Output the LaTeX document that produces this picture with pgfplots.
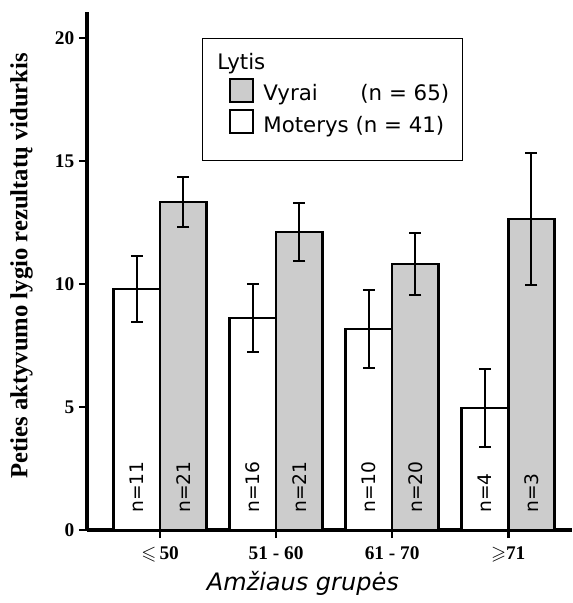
\documentclass[border=0pt]{standalone}
\usepackage{amssymb}
\usepackage{fontspec}
\setmainfont{Liberation Serif}
\newfontfamily\verd{DejaVu Sans}
\usepackage{pgfplots}
\pgfplotsset{compat=1.18}
\definecolor{barg}{RGB}{204,204,204}
\pgfplotsset{sqlegend/.style={legend image code/.code={\draw[##1] (13pt,-6pt) rectangle (30pt,11pt); \path (35pt,0pt);}}}
\begin{document}
\begin{tikzpicture}
\useasboundingbox (-65.25pt,-54.75pt) rectangle (363.75pt,397.5pt);
\begin{axis}[
  at={(0,0)}, anchor=south west,
  scale only axis, width=363.75pt, height=388.5pt,
  xmin=-0.63, xmax=3.55, ymin=0, ymax=21.05,
  axis lines*=left,
  axis line style={line width=3pt},
  ybar, bar width=0.4,
  xtick={0,1,2,3},
  xticklabels={{$\leqslant$\,50},{51 - 60},{61 - 70},{$\geqslant$71}},
  ytick={0,5,10,15,20},
  /pgf/number format/assume math mode=true,
  tick align=outside,
  major tick length=6pt,
  tick style={line width=2pt,black},
  ticklabel style={font=\bfseries\fontsize{14.5}{16}\selectfont},
  xticklabel style={yshift=-3pt},
  ylabel={Peties aktyvumo lygio rezultatų vidurkis},
  ylabel style={font=\bfseries\fontsize{18.5}{20}\selectfont, at={(axis description cs:-0.135,0.51)}, anchor=center},
  xlabel={Amžiaus grupės},
  xlabel style={font=\verd\itshape\fontsize{18}{20}\selectfont, at={(axis description cs:0.445,0)}, yshift=-40pt, anchor=center},
  legend style={at={(axis description cs:0.237,0.95)}, anchor=north west, draw=black, line width=0.6pt,
    font=\verd\fontsize{16}{18}\selectfont, inner xsep=8pt, inner ysep=9pt, row sep=3pt,
    cells={anchor=west}},
  clip=false,
]
\addlegendimage{empty legend}
\addlegendentry{\hspace{-34.5pt}Lytis}
\addlegendimage{draw=black, fill=barg, line width=1.5pt, sqlegend}
\addlegendentry{\makebox[4.55em][l]{Vyrai}(n = 65)}
\addlegendimage{draw=black, fill=white, line width=1.5pt, sqlegend}
\addlegendentry{Moterys (n = 41)}
\addlegendimage{empty legend}
\addlegendentry{\rule{0pt}{0pt}}

\addplot[forget plot, bar shift=-0.2, draw=black, fill=white, line width=2pt,
  error bars/.cd, y dir=both, y explicit, error mark=|,
  error bar style={line width=1.5pt, black},
  error mark options={line width=1.5pt, draw=black, mark size=4.5pt}]
  table[x=x, y=y, y error=e] {
x y e
0 9.80 1.34
1 8.62 1.38
2 8.17 1.60
3 4.96 1.59
};
\addplot[forget plot, bar shift=0.2, draw=black, fill=barg, line width=2pt,
  error bars/.cd, y dir=both, y explicit, error mark=|,
  error bar style={line width=1.5pt, black},
  error mark options={line width=1.5pt, draw=black, mark size=4.5pt}]
  table[x=x, y=y, y error=e] {
x y e
0 13.33 1.01
1 12.11 1.17
2 10.81 1.26
3 12.64 2.67
};
\begin{scope}[every node/.style={font=\verd\fontsize{14}{16}\selectfont, rotate=90, anchor=west, inner sep=0pt}]
\node at (axis cs:-0.2,0.7) {n=11};
\node at (axis cs:0.2,0.7) {n=21};
\node at (axis cs:0.8,0.7) {n=16};
\node at (axis cs:1.2,0.7) {n=21};
\node at (axis cs:1.8,0.7) {n=10};
\node at (axis cs:2.2,0.7) {n=20};
\node at (axis cs:2.8,0.7) {n=4};
\node at (axis cs:3.2,0.7) {n=3};
\end{scope}
\end{axis}
\end{tikzpicture}
\end{document}
